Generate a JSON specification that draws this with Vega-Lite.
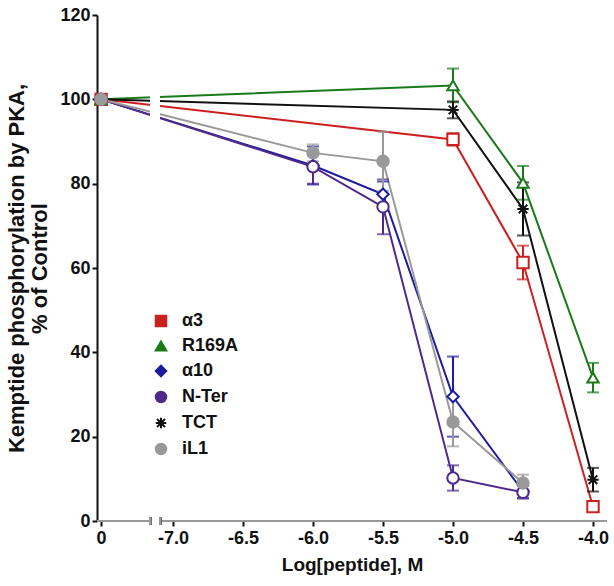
{
  "$schema": "https://vega.github.io/schema/vega-lite/v6.json",
  "width": 510,
  "height": 506,
  "autosize": "none",
  "padding": {"left": 97, "top": 15, "right": 7, "bottom": 65},
  "config": {
    "view": {"stroke": null},
    "font": "Liberation Sans",
    "axis": {"labelFont": "Liberation Sans", "titleFont": "Liberation Sans", "labelFontWeight": "bold", "titleFontWeight": "bold", "labelColor": "#111", "titleColor": "#111", "grid": false, "tickColor": "#111", "domainColor": "#111", "tickWidth": 2, "domainWidth": 2, "tickSize": 5},
    "legend": {
      "title": null, "orient": "none", "legendX": 55, "legendY": 297,
      "labelFontSize": 18, "labelFontWeight": "bold", "labelFont": "Liberation Sans", "labelColor": "#111",
      "symbolSize": 110, "symbolStrokeWidth": 2, "rowPadding": 6, "labelOffset": 12
    }
  },
  "data": {
    "values": [
      {"s": "α3", "logc": null, "y": 100, "e": 0.6},
      {"s": "α3", "logc": -5.0, "y": 90.5, "e": 1.5},
      {"s": "α3", "logc": -4.5, "y": 61.3, "e": 4},
      {"s": "α3", "logc": -4.0, "y": 3.4, "e": 1},
      {"s": "R169A", "logc": null, "y": 100, "e": 0.6},
      {"s": "R169A", "logc": -5.0, "y": 103.3, "e": 4},
      {"s": "R169A", "logc": -4.5, "y": 80.2, "e": 4},
      {"s": "R169A", "logc": -4.0, "y": 34, "e": 3.5},
      {"s": "α10", "logc": null, "y": 100, "e": 0.6},
      {"s": "α10", "logc": -6.0, "y": 84.3, "e": 4.5},
      {"s": "α10", "logc": -5.5, "y": 77.5, "e": 3},
      {"s": "α10", "logc": -5.0, "y": 29.5, "e": 9.5},
      {"s": "α10", "logc": -4.5, "y": 7, "e": 1.5},
      {"s": "N-Ter", "logc": null, "y": 100, "e": 0.6},
      {"s": "N-Ter", "logc": -6.0, "y": 84, "e": 4},
      {"s": "N-Ter", "logc": -5.5, "y": 74.5, "e": 6.5},
      {"s": "N-Ter", "logc": -5.0, "y": 10.2, "e": 3},
      {"s": "N-Ter", "logc": -4.5, "y": 6.8, "e": 1.5},
      {"s": "TCT", "logc": null, "y": 100, "e": 0.6},
      {"s": "TCT", "logc": -5.0, "y": 97.5, "e": 2},
      {"s": "TCT", "logc": -4.5, "y": 74, "e": 6.3},
      {"s": "TCT", "logc": -4.0, "y": 9.8, "e": 2.8},
      {"s": "iL1", "logc": null, "y": 100, "e": 0.6},
      {"s": "iL1", "logc": -6.0, "y": 87.3, "e": 2},
      {"s": "iL1", "logc": -5.5, "y": 85.3, "e": 7},
      {"s": "iL1", "logc": -5.0, "y": 23.5, "e": 5.8},
      {"s": "iL1", "logc": -4.5, "y": 9, "e": 2}
    ]
  },
  "transform": [
    {"calculate": "isValid(datum.logc) ? datum.logc : -7.514", "as": "x"}
  ],
  "encoding": {
    "x": {
      "field": "x", "type": "quantitative",
      "scale": {"domain": [-7.543, -3.9], "nice": false, "zero": false},
      "axis": {
        "values": [-7.514, -7, -6.5, -6, -5.5, -5, -4.5, -4],
        "labelExpr": "datum.value < -7.2 ? '0' : replace(format(datum.value, '.1f'), '−', '-')",
        "domain": false, "labelFontSize": 18, "labelPadding": 3,
        "title": "Log[peptide], M", "titleFontSize": 19, "titlePadding": 8
      }
    },
    "y": {
      "field": "y", "type": "quantitative",
      "scale": {"domain": [0, 120], "nice": false},
      "axis": {
        "values": [0, 20, 40, 60, 80, 100, 120],
        "labelFontSize": 18, "labelPadding": 2,
        "title": ["Kemptide phosphorylation by PKA,", "% of Control"],
        "titleFontSize": 22, "titlePadding": 8, "titleLineHeight": 23
      }
    },
    "color": {
      "field": "s", "type": "nominal",
      "scale": {"domain": ["α3", "R169A", "α10", "N-Ter", "TCT", "iL1"], "range": ["#cc2020", "#1a7a1a", "#1c1ca0", "#4e2a8a", "#111111", "#999999"]},
      "legend": {
        "encode": {
          "symbols": {
            "update": {
              "shape": {"signal": "datum.value == 'α3' ? 'M-1.6,0L1.6,0M-0.9,-0.9L0.9,-0.9L0.9,0.9L-0.9,0.9Z' : datum.value == 'R169A' ? 'M-1.6,0.3L1.6,0.3M0,-1L1,0.8L-1,0.8Z' : datum.value == 'α10' ? 'M-1.6,0L1.6,0M0,-1L1,0L0,1L-1,0Z' : datum.value == 'N-Ter' ? 'M-1.6,0L1.6,0M-0.9,0A0.9,0.9 0 1,0 0.9,0A0.9,0.9 0 1,0 -0.9,0Z' : datum.value == 'TCT' ? 'M-1.6,0L1.6,0M0,-1L0,1M-0.75,-0.75L0.75,0.75M-0.75,0.75L0.75,-0.75' : 'M-1.6,0L1.6,0M-0.9,0A0.9,0.9 0 1,0 0.9,0A0.9,0.9 0 1,0 -0.9,0Z'"},
              "fill": {"signal": "datum.value == 'iL1' ? '#999999' : 'transparent'"},
              "stroke": {"signal": "scale('color', datum.value)"},
              "strokeWidth": {"value": 2},
              "size": {"value": 110}
            }
          }
        }
      }
    }
  },
  "layer": [
    {
      "mark": {"type": "line", "strokeWidth": 2},
      "encoding": {"detail": {"field": "s"}}
    },
    {
      "mark": {"type": "errorbar", "ticks": {"size": 12}, "thickness": 2},
      "encoding": {"yError": {"field": "e"}}
    },
    {
      "mark": {"type": "rect", "fill": "white"},
      "encoding": {"x": {"datum": -7.16}, "x2": {"datum": -7.095}, "y": {"datum": 0}, "y2": {"datum": 120}, "color": {"value": "white"}}
    },
    {
      "mark": {"type": "point", "filled": false, "fill": "white", "size": 130, "strokeWidth": 2, "opacity": 1},
      "encoding": {
        "shape": {
          "field": "s", "type": "nominal",
          "scale": {"domain": ["α3", "R169A", "α10", "N-Ter", "TCT", "iL1"], "range": ["square", "triangle-up", "diamond", "circle", "M-1,0L1,0M0,-1L0,1M-0.75,-0.75L0.75,0.75M-0.75,0.75L0.75,-0.75", "circle"]},
          "legend": null
        }
      }
    },
    {
      "transform": [{"filter": "datum.s == 'iL1'"}],
      "mark": {"type": "point", "filled": true, "size": 130, "strokeWidth": 2, "opacity": 1, "shape": "circle"}
    },
    {
      "mark": {"type": "rule", "strokeWidth": 2, "color": "#111"},
      "encoding": {"x": {"datum": -7.543}, "x2": {"datum": -7.163}, "y": {"datum": 0}}
    },
    {
      "mark": {"type": "rule", "strokeWidth": 2, "color": "#111"},
      "encoding": {"x": {"datum": -7.092}, "x2": {"datum": -3.9}, "y": {"datum": 0}}
    },
    {
      "mark": {"type": "rule", "strokeWidth": 2, "color": "#111"},
      "encoding": {"x": {"datum": -7.163}, "y": {"datum": -0.8}, "y2": {"datum": 0.8}}
    },
    {
      "mark": {"type": "rule", "strokeWidth": 2, "color": "#111"},
      "encoding": {"x": {"datum": -7.092}, "y": {"datum": -0.8}, "y2": {"datum": 0.8}}
    }
  ]
}
